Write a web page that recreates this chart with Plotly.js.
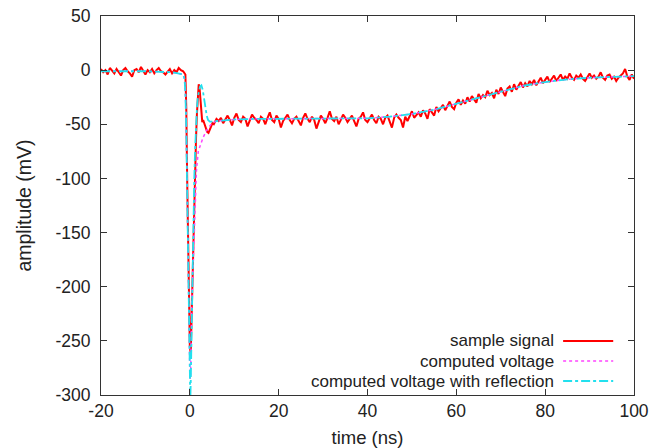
<!DOCTYPE html>
<html>
<head>
<meta charset="utf-8">
<script src="https://cdn.plot.ly/plotly-3.0.1.min.js"></script>
<style>html,body{margin:0;padding:0;background:#fff;}#chart{width:655px;height:448px;}</style>
</head>
<body>
<div id="chart"></div>
<script>
// ---- data ----
const seriesNames = ["sample signal", "computed voltage", "computed voltage with reflection"];

// sample signal: regular 0.5 ns sampling before and after the pulse
const sampleStep = 0.5;
const samplePreStart = -20;
const samplePreValues = [
  1,-2,0,-4,2,-1,-3,1,-2,-5,
  0,2,-1,-3,-6,0,1,-2,3,-1,
  -4,0,-2,1,-3,0,2,-1,-2,-4,
  -1,1,-3,0,-2,2,0,-1
];
const samplePulseTimes = [-1.0,-0.8,-0.6,-0.4,-0.2,0,0.2,0.4,0.6,0.8,1.0,1.2,1.4,1.6,1.8,2.0,
  2.2,2.4,2.6,2.8,3.0,3.3,3.6,3.9,4.2,4.5,4.8,5.1,5.4,5.7,6.0];
const samplePulseValues = [-4,-35,-100,-170,-225,-255,-262,-225,-185,-150,-118,-88,-62,-40,-22,-13,
  -17,-30,-42,-48,-46,-50,-54,-57,-58,-55,-52,-49,-50,-47,-45];
const samplePostStart = 6.5;
const samplePostValues = [
  -47,-44,-49,-45,-42,-46,-51,-44,-40,-46,
  -48,-43,-45,-52,-47,-41,-44,-46,-49,-43,
  -45,-50,-44,-39,-46,-48,-42,-45,-53,-47,
  -44,-41,-46,-49,-45,-43,-47,-51,-44,-40,
  -45,-48,-43,-46,-54,-47,-42,-45,-49,-44,
  -38,-45,-47,-43,-50,-46,-41,-44,-48,-45,
  -42,-47,-52,-45,-43,-39,-46,-48,-44,-41,
  -46,-49,-43,-45,-50,-44,-42,-47,-53,-44,
  -41,-44,-46,-53,-43,-47,-42,-38,-44,-41,
  -39,-43,-37,-40,-45,-36,-39,-42,-34,-38,
  -35,-32,-37,-33,-29,-34,-36,-30,-27,-32,
  -28,-31,-25,-29,-24,-27,-30,-22,-26,-23,
  -25,-19,-23,-21,-26,-18,-22,-16,-20,-24,
  -17,-15,-20,-13,-18,-14,-11,-16,-12,-15,
  -10,-13,-9,-14,-11,-7,-12,-9,-6,-11,
  -8,-5,-10,-7,-4,-9,-6,-8,-3,-7,
  -9,-5,-7,-4,-8,-10,-6,-3,-7,-5,
  -8,-6,-2,-7,-9,-5,-4,-8,-6,-10,
  -7,-5,-3,1,-6,-9,-4,-8
];

// computed voltage
const computedTimes = [-20,-10,-4,-2.5,-1.5,-1.2,-1.0,-0.8,-0.6,-0.4,-0.2,0,
  0.1,0.2,0.4,0.7,1.0,1.2,1.5,1.9,2.3,3.0,4.0,5,6,8,10,
  15,20,25,30,35,40,45,50,55,60,65,70,75,80,85,90,95,100];
const computedValues = [-1,-1,-2,-3,-4,-8,-20,-55,-120,-190,-250,-280,
  -285,-275,-221,-180,-140,-115,-92,-75,-70,-62,-54,-49,-47,-46,-45.5,
  -45,-45,-45,-45,-44.5,-44.5,-43,-40.5,-36.5,-31,-25,-19.5,-14.5,-11,-8.5,-7,-6,-5.5];

// computed voltage with reflection
const reflTimes = [-20,-10,-4,-2.5,-1.5,-1.2,-1.0,-0.8,-0.6,-0.4,-0.2,0,
  0.1,0.2,0.4,0.6,0.8,1.0,1.2,1.4,1.6,1.8,2.0,2.3,2.6,2.9,3.2,3.5,3.8,4.1,4.5,5,6,8,10,
  15,20,25,30,35,40,45,50,55,60,65,70,75,80,85,90,95,100];
const reflValues = [-1,-1,-2,-3,-4,-8,-20,-55,-120,-190,-255,-295,
  -305,-290,-230,-180,-135,-100,-72,-50,-35,-25,-19,-15,-14,-18,-26,-35,-42,-46,-47.5,-47.5,-47,-46,-45.5,
  -45,-45,-45,-45,-44.5,-44.5,-43,-40.5,-36.5,-31,-25,-19.5,-14.5,-11,-8.5,-7,-6,-5.5];

const xTicks = [-20,0,20,40,60,80,100];
const yTicks = [-300,-250,-200,-150,-100,-50,0,50];

// ---- build ----
const sampleTimes = samplePreValues.map((v,i)=>samplePreStart + i*sampleStep)
  .concat(samplePulseTimes)
  .concat(samplePostValues.map((v,i)=>samplePostStart + i*sampleStep));
const sampleValues = samplePreValues.concat(samplePulseValues).concat(samplePostValues);

const colors = ["#ff0000", "#ff44ff", "#22e0ee"];
const dashes = ["solid", "dot", "dashdot"];
const widths = [2, 1.5, 1.8];

const traces = [
  {x: sampleTimes, y: sampleValues, name: seriesNames[0], mode: "lines",
   line: {color: colors[0], width: widths[0], dash: dashes[0]}},
  {x: computedTimes, y: computedValues, name: seriesNames[1], mode: "lines",
   line: {color: colors[1], width: widths[1], dash: dashes[1]}},
  {x: reflTimes, y: reflValues, name: seriesNames[2], mode: "lines",
   line: {color: colors[2], width: widths[2], dash: dashes[2]}}
];

const fam = "Liberation Sans, Arial, sans-serif";
const tickFont = {family: fam, size: 17.5, color: "#222"};
const keyFont = {family: fam, size: 17, color: "#222"};
const xTitleFont = {family: fam, size: 18.5, color: "#222"};
const yTitleFont = {family: fam, size: 19.5, color: "#222"};

// gnuplot-style key: right-aligned text with the line sample on its right
const keyRows = [0.1425, 0.0897, 0.0369];
const annotations = seriesNames.map((n,i)=>({
  xref: "paper", yref: "paper", x: 0.852, y: keyRows[i], xanchor: "right", yanchor: "middle",
  text: n, showarrow: false, font: keyFont, borderpad: 0
}));
const shapes = seriesNames.map((n,i)=>({
  type: "line", xref: "paper", yref: "paper", x0: 0.867, x1: 0.961, y0: keyRows[i], y1: keyRows[i],
  line: {color: colors[i], width: widths[i], dash: dashes[i]}
}));

const axisCommon = {
  showgrid: false, zeroline: false, showline: true, linecolor: "#333", linewidth: 1,
  mirror: "ticks", ticks: "inside", ticklen: 6, tickcolor: "#333", tickwidth: 1,
  tickfont: tickFont, automargin: false
};

const layout = {
  width: 655, height: 448,
  margin: {l: 101, r: 21, t: 16, b: 53},
  paper_bgcolor: "#fff", plot_bgcolor: "#fff",
  showlegend: false,
  font: tickFont,
  xaxis: Object.assign({}, axisCommon, {
    range: [-20, 100], tickmode: "array", tickvals: xTicks, ticktext: xTicks.map(String),
    title: {text: "time (ns)", font: xTitleFont, standoff: 15}
  }),
  yaxis: Object.assign({}, axisCommon, {
    range: [-300, 50], tickmode: "array", tickvals: yTicks, ticktext: yTicks.map(String),
    ticklabelstandoff: 6,
    title: {text: "amplitude (mV)", font: yTitleFont, standoff: 18}
  }),
  annotations: annotations,
  shapes: shapes
};

Plotly.newPlot("chart", traces, layout, {staticPlot: true, displayModeBar: false});
</script>
</body>
</html>
